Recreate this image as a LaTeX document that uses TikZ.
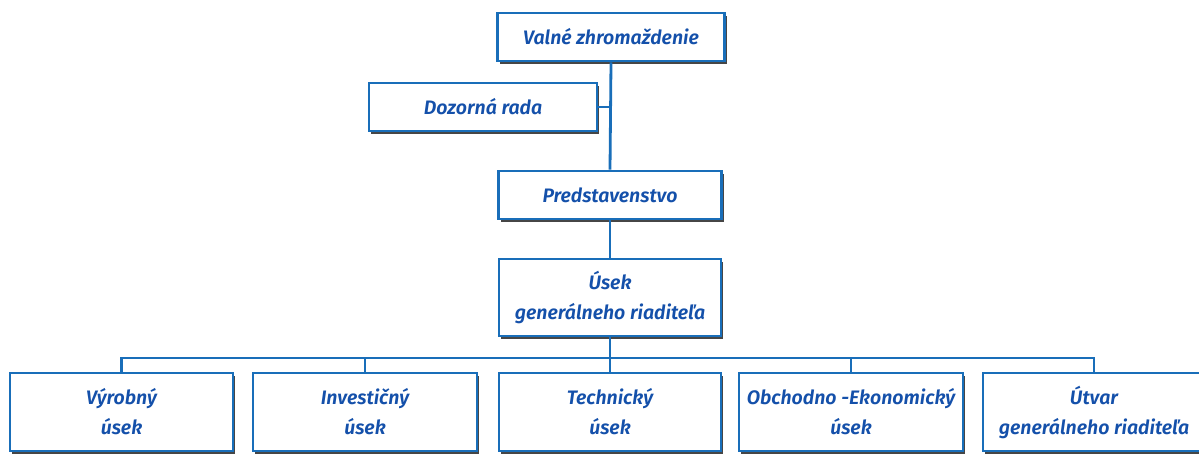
\documentclass[tikz,border=0pt]{standalone}
\usepackage{fontspec}
\setmainfont{Fira Sans}[BoldItalicFont={Fira Sans SemiBold Italic}]
\usetikzlibrary{shadows}
\definecolor{boxblue}{RGB}{25,110,185}
\definecolor{txtblue}{RGB}{20,80,170}
\definecolor{shadowgray}{RGB}{70,70,70}
\begin{document}
\begin{tikzpicture}[x=1pt,y=-1pt,
  orgbox/.style={draw=boxblue, line width=2.6pt, fill=white, inner sep=2pt,
    text=txtblue, align=center,
    font=\fontsize{19.5}{30}\selectfont\bfseries\itshape,
    drop shadow={shadow xshift=2.4pt, shadow yshift=-2.6pt, fill=shadowgray, opacity=1}},
  link/.style={draw=boxblue, line width=2.8pt}]
\useasboundingbox (0,0) rectangle (1199,457);
\node[orgbox, minimum width=227pt, minimum height=48pt] (valne) at (611,37) {Valné zhromaždenie};
\node[orgbox, minimum width=228pt, minimum height=48pt] (dozor) at (483,107) {Dozorná rada};
\node[orgbox, minimum width=223pt, minimum height=48pt] (pred) at (610,195) {Predstavenstvo};
\node[orgbox, minimum width=222pt, minimum height=77pt] (usek) at (610,297.5) {Úsek\\generálneho riaditeľa};
\node[orgbox, minimum width=223pt, minimum height=78pt] (vyr) at (121.5,412) {Výrobný\\úsek};
\node[orgbox, minimum width=224pt, minimum height=78pt] (inv) at (365,412) {Investičný\\úsek};
\node[orgbox, minimum width=222pt, minimum height=78pt] (tech) at (610,412) {Technický\\úsek};
\node[orgbox, minimum width=224pt, minimum height=78pt] (obch) at (851,412) {Obchodno -Ekonomický\\úsek};
\node[orgbox, minimum width=222pt, minimum height=78pt] (utv) at (1094,412) {Útvar\\generálneho riaditeľa};
\coordinate (busL) at (121.5,358);
\coordinate (busR) at (1094,358);
\draw[link] (valne.south) -- (pred.north);
\draw[link] (dozor.east) -- (dozor.east -| valne.south);
\draw[link] (pred.south) -- (usek.north);
\draw[link] (usek.south) -- (tech.north);
\draw[link] (vyr.north) -- (busL) -- (busR) -- (utv.north);
\draw[link] (inv.north) -- (inv.north |- busL);
\draw[link] (obch.north) -- (obch.north |- busL);
\end{tikzpicture}
\end{document}
